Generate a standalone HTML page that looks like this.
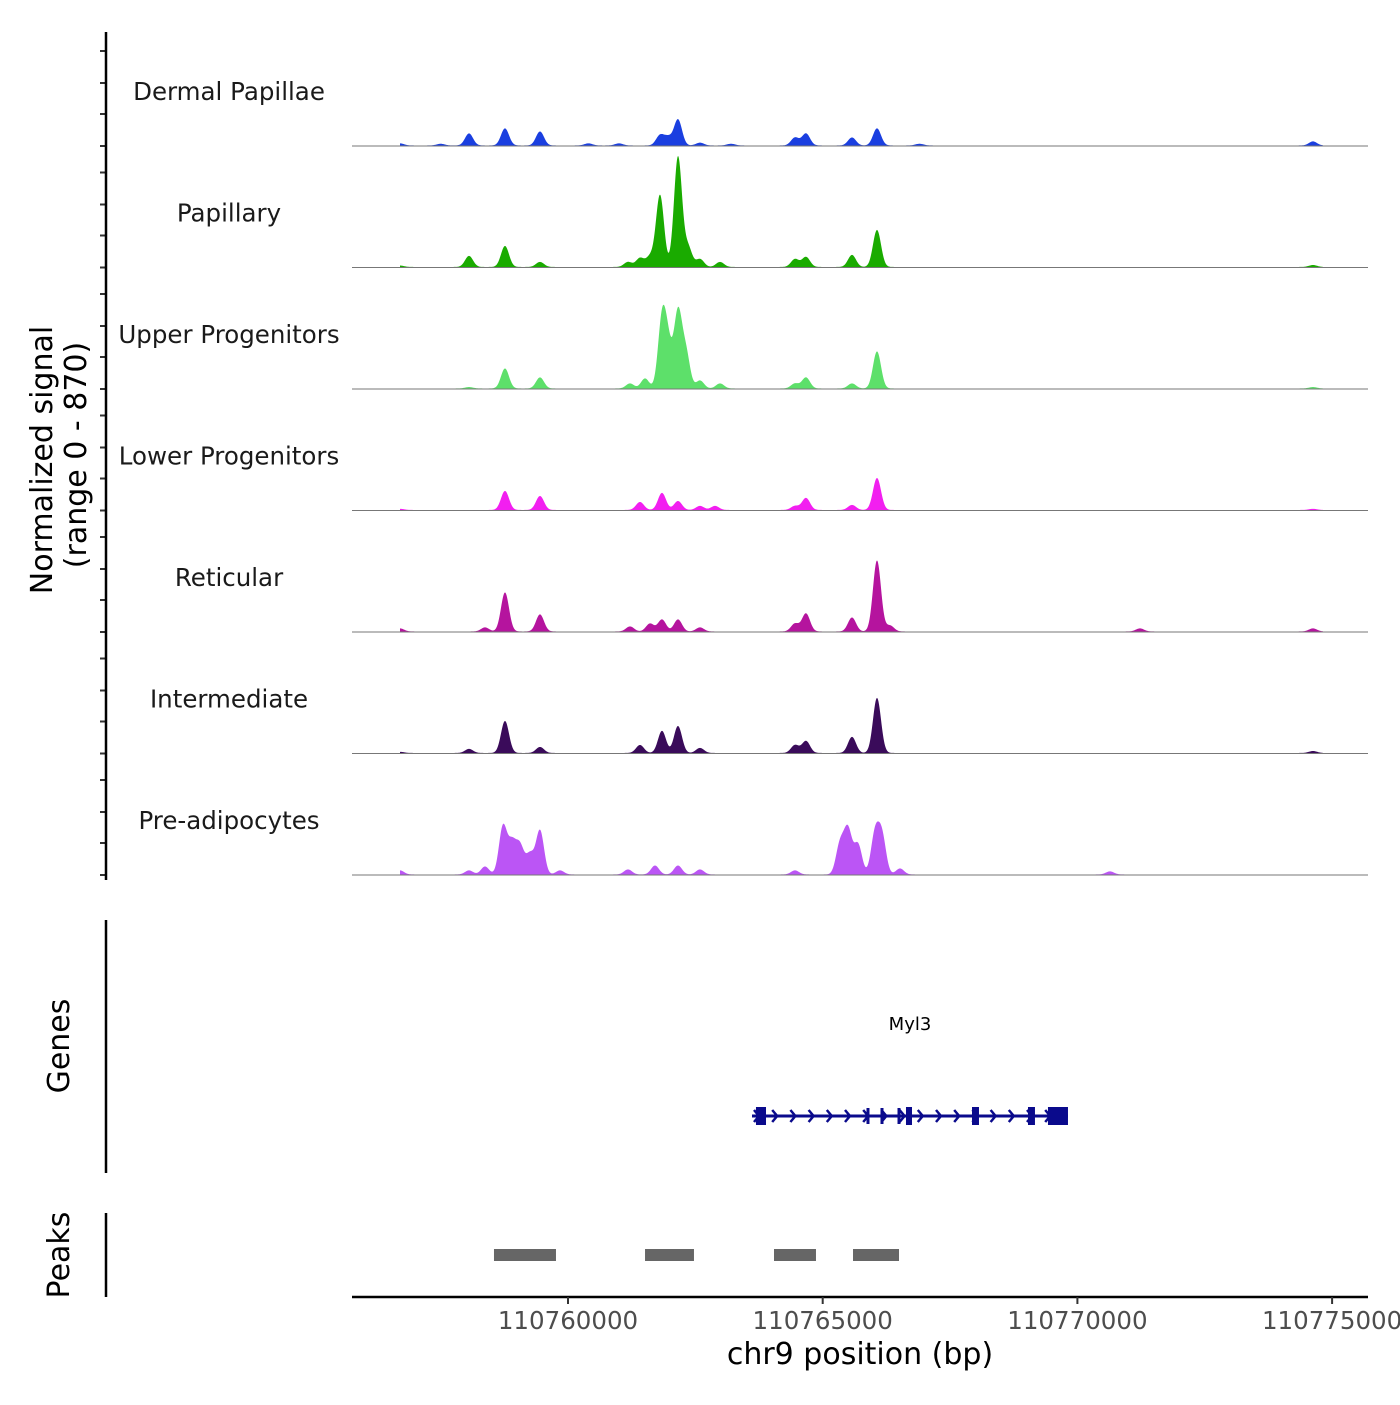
<!DOCTYPE html>
<html><head><meta charset="utf-8"><style>
body{margin:0;background:#fff;}
svg text{font-family:"DejaVu Sans","Liberation Sans",sans-serif;}
</style></head><body>
<svg id="chart" width="1400" height="1400" xmlns="http://www.w3.org/2000/svg"></svg>
<script>
const tracks=["Dermal Papillae","Papillary","Upper Progenitors","Lower Progenitors","Reticular","Intermediate","Pre-adipocytes"];
const trackColors=["#1a3fe0","#1aab00","#5de06a","#f21ff0","#b5149e","#3a0b5a","#bb55f5"];
const peakPos=[
[110756702,110757500,110758057,110758763,110759450,110760400,110761000,110761806,110761963,110762159,110762591,110763200,110764456,110764672,110765575,110766066,110766900,110774624],
[110756702,110758057,110758763,110759450,110761178,110761413,110761610,110761806,110762159,110762356,110762591,110762984,110764456,110764672,110765575,110766066,110774624],
[110758057,110758763,110759450,110761217,110761512,110761845,110761963,110762159,110762316,110762591,110762984,110764456,110764672,110765575,110766066,110774624],
[110756702,110758763,110759450,110761413,110761845,110762159,110762591,110762886,110764456,110764672,110765575,110766066,110774624],
[110756702,110758371,110758763,110759450,110761217,110761610,110761845,110762159,110762591,110764456,110764672,110765575,110766066,110766321,110771228,110774624],
[110756702,110758057,110758763,110759450,110761413,110761845,110762159,110762591,110764456,110764672,110765575,110766066,110774624],
[110756702,110758057,110758371,110758724,110758901,110759058,110759254,110759450,110759843,110761178,110761708,110762159,110762591,110764456,110765339,110765496,110765693,110766026,110766164,110766517,110770639]
];
const peakVal=[
[15,12,86,122,100,15,15,72,57,186,20,12,57,86,57,122,12,29],
[10,79,150,36,36,64,72,515,788,143,57,36,57,72,86,265,14],
[10,143,79,36,72,480,286,537,250,57,36,36,79,36,265,10],
[8,136,100,57,122,64,29,29,29,86,36,229,8],
[22,29,279,122,36,57,86,86,29,57,129,100,508,43,22,22],
[8,29,229,43,57,158,193,36,57,86,115,394,14],
[29,29,57,344,215,200,143,315,29,36,64,64,36,29,215,315,215,286,272,43,22]
];
const peakStart=[110758547,110761512,110764044,110765595];
const peakEnd=[110759764,110762473,110764868,110766498];
const geneStart=110763612, geneEnd=110769815;
const exonStart=[110763690,110766635,110767931,110769030,110769422];
const exonEnd=[110763887,110766753,110768068,110769167,110769815];
const spliceMarks=[110765889,110766164,110766498];
const xTicks=[110760000,110765000,110770000,110775000];
const xTickLabels=["110760000","110765000","110770000","110775000"];
const yMax=870;

const NS="http://www.w3.org/2000/svg";
const svg=document.getElementById('chart');
function el(t,a,p){const e=document.createElementNS(NS,t);for(const k in a)e.setAttribute(k,a[k]);(p||svg).appendChild(e);return e;}
const xS=bp=>568+(bp-110760000)*254.7/5000;
const panelH=121.5, base0=146;
const yS=(v,i)=>base0+i*panelH - v/yMax*panelH;

tracks.forEach((name,i)=>{
  const b=base0+i*panelH;
  const g=el('g',{});
  
  
  let d='M400,'+b;
  for(let x=400;x<=1323;x+=0.5){
    let v=4;
    peakPos[i].forEach((p,k)=>{const dx=(x-xS(p))/4;v+=peakVal[i][k]*Math.exp(-0.5*dx*dx);});
    d+=' L'+x+','+yS(v,i).toFixed(2);
  }
  d+=' L1323,'+b+' Z';
  const a=el('path',{d:d,fill:trackColors[i],stroke:'none'},g);
  
  
  el('line',{x1:352,x2:1368,y1:b,y2:b,stroke:'#777','stroke-width':1},g);
  const t=el('text',{x:229,y:b-46,'text-anchor':'middle','font-size':24.5,fill:'#1a1a1a'},g);
  t.textContent=name;
  
  
  [-95,-63,-32,0].forEach(o=>el('line',{x1:100,x2:106,y1:b+o,y2:b+o,stroke:'#333','stroke-width':2},g));
});
el('line',{x1:106,x2:106,y1:32,y2:880,stroke:'#000','stroke-width':2.5});
el('line',{x1:106,x2:106,y1:920,y2:1173,stroke:'#000','stroke-width':2.5});
el('line',{x1:106,x2:106,y1:1213,y2:1297,stroke:'#000','stroke-width':2.5});
let yt=el('text',{transform:'translate(52,460) rotate(-90)','text-anchor':'middle','font-size':30,fill:'#000'});
yt.textContent='Normalized signal';


let yt2=el('text',{transform:'translate(86,455) rotate(-90)','text-anchor':'middle','font-size':30,fill:'#000'});
yt2.textContent='(range 0 - 870)';


let gl=el('text',{transform:'translate(69,1046) rotate(-90)','text-anchor':'middle','font-size':30,fill:'#000'});
gl.textContent='Genes';


let pl=el('text',{transform:'translate(69,1255) rotate(-90)','text-anchor':'middle','font-size':30,fill:'#000'});
pl.textContent='Peaks';


const gg=el('g',{});


const gc='#0a0a8c';
el('line',{x1:xS(geneStart),x2:xS(geneEnd),y1:1116,y2:1116,stroke:gc,'stroke-width':3},gg);
for(let x=xS(geneStart)+2;x<xS(geneEnd)-8;x+=18.2){
  el('polyline',{points:(x)+',1110 '+(x+5)+',1116 '+(x)+',1122',fill:'none',stroke:gc,'stroke-width':2.5},gg);
}
exonStart.forEach((s,k)=>{const r=el('rect',{x:xS(s),y:1107,width:xS(exonEnd[k])-xS(s),height:18,fill:gc},gg);
});
spliceMarks.forEach(s=>el('rect',{x:xS(s)-1.5,y:1108,width:3,height:16,fill:gc},gg));
const gt=el('text',{x:910,y:1030,'text-anchor':'middle','font-size':18,fill:'#000'},gg);
gt.textContent='Myl3';
peakStart.forEach((s,k)=>{const r=el('rect',{x:xS(s),y:1249,width:xS(peakEnd[k])-xS(s),height:12,fill:'#666'});
});
el('line',{x1:352,x2:1368,y1:1297,y2:1297,stroke:'#000','stroke-width':2.5});
xTicks.forEach((t,k)=>{
  el('line',{x1:xS(t),x2:xS(t),y1:1297,y2:1304,stroke:'#333','stroke-width':2});
  const tl=el('text',{x:xS(t),y:1329,'text-anchor':'middle','font-size':24.5,fill:'#4d4d4d'});
  tl.textContent=xTickLabels[k];
  
  
});
const xt=el('text',{x:860,y:1364,'text-anchor':'middle','font-size':30,fill:'#000'});
xt.textContent='chr9 position (bp)';


</script>
</body></html>
